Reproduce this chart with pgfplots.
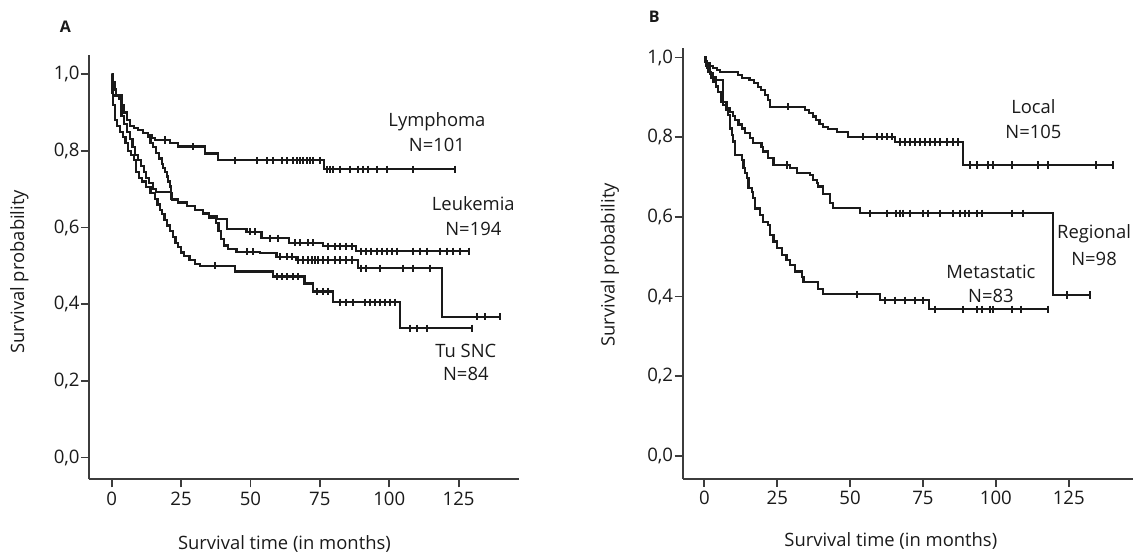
\documentclass[border=0pt]{standalone}
\usepackage{pgfplots}
\pgfplotsset{compat=1.18}
\usepackage{fontspec}
\setmainfont{Open Sans}
\definecolor{ink}{HTML}{1A1A1A}
\pgfplotsset{
 kmaxis/.style={
  scale only axis, anchor=south west,
  axis lines=left, axis line style={-, line width=1pt, ink!85},
  tick align=outside, major tick length=4pt, tick style={line width=0.9pt, ink!85},
  xtick={0,25,50,75,100,125}, xticklabels={0,25,50,75,100,125},
  ytick={0,0.2,0.4,0.6,0.8,1}, yticklabels={{0,0},{0,2},{0,4},{0,6},{0,8},{1,0}},
  tick label style={font=\fontsize{9.3}{10}\selectfont, text=ink},
  yticklabel style={inner xsep=0.5pt},
  xticklabel style={inner ysep=2pt},
  label style={font=\fontsize{9.2}{10}\selectfont, text=ink},
  xlabel={Survival time (in months)}, ylabel={Survival probability},
  clip=false,
 },
 km/.style={const plot, mark=none, line width=1.1pt, ink},
 cens/.style={only marks, mark=|, mark size=1.8pt, ink, mark options={line width=1pt}},
}
\tikzset{lbl/.style={font=\fontsize{9.2}{10}\selectfont, text=ink, inner sep=0pt, anchor=center}}
\begin{document}
\begin{tikzpicture}
\useasboundingbox (0,0) rectangle (570.5pt,277.5pt);
% ---------------- Panel A ----------------
\begin{axis}[kmaxis,
  at={(44.5pt,37.75pt)}, width=215.2pt, height=212.35pt,
  xmin=-8.18, xmax=146.9, ymin=-0.0571, ymax=1.0503,
  ylabel style={at={(axis description cs:-0.162,0.489)}, anchor=center},
  xlabel style={at={(axis description cs:0.454,-0.152)}, anchor=center},
]
% Lymphoma
\addplot[km] table {
0 1.0
0.3 0.98
1 0.96
1.5 0.945
2.5 0.935
3.5 0.92
4.5 0.90
5.5 0.88
6.6 0.865
8 0.86
9.5 0.855
11.4 0.846
13 0.84
14.5 0.834
15.6 0.828
21 0.82
24 0.811
33.6 0.793
38.2 0.775
76.5 0.752
123.7 0.752
};
\addplot[cens] table {
19.2 0.828
29.4 0.811
44.4 0.775
52.2 0.775
55.8 0.775
58.2 0.775
61.2 0.775
63 0.775
65.4 0.775
66.6 0.775
67.8 0.775
69 0.775
70.2 0.775
71.4 0.775
72.6 0.775
75 0.775
77.4 0.752
78.6 0.752
79.8 0.752
82.2 0.752
85.8 0.752
88.8 0.752
90.7 0.752
92.5 0.752
95.5 0.752
99.1 0.752
108.7 0.752
123.7 0.752
};
% Leukemia
\addplot[km] table {
0 1.0
0.3 0.98
1 0.96
1.5 0.945
2.5 0.935
3.5 0.92
4.5 0.90
5.5 0.88
6.6 0.865
8 0.86
9.5 0.855
11.4 0.846
13 0.835
14 0.82
15 0.81
16 0.795
17 0.78
18 0.765
18.6 0.755
19.2 0.745
19.8 0.733
20.4 0.72
21 0.707
21.3 0.69
21.8 0.672
24 0.665
27 0.655
30 0.645
33 0.637
35 0.63
37.8 0.622
41.4 0.597
48.6 0.589
54 0.572
64 0.56
76 0.551
88 0.538
128.8 0.538
};
\addplot[cens] table {
49.8 0.589
51.6 0.589
57 0.572
60 0.572
66 0.56
68 0.56
70.7 0.56
72.4 0.56
78 0.551
80.4 0.551
82.2 0.551
84.6 0.551
86.5 0.551
90 0.538
91.8 0.538
93.6 0.538
95.5 0.538
97.3 0.538
99.1 0.538
100.9 0.538
102.7 0.538
108.7 0.538
111.1 0.538
113.5 0.538
118.3 0.538
120.7 0.538
123.1 0.538
125.5 0.538
128.8 0.538
};
% fourth group (ends 0.37)
\addplot[km] table {
0 1.0
0.3 0.96
0.6 0.944
3.5 0.89
4.5 0.87
5.5 0.85
6.5 0.83
7.5 0.81
8.5 0.79
9.5 0.775
10.5 0.76
11.5 0.745
12.5 0.73
13.5 0.715
14.8 0.70
16 0.693
21.5 0.675
24 0.665
27 0.655
30 0.645
33 0.635
35 0.625
37.5 0.612
38.5 0.59
39.5 0.57
40.5 0.553
42 0.543
45 0.537
53.4 0.533
59.4 0.524
66.6 0.515
88.8 0.494
118.9 0.367
139.9 0.367
};
\addplot[cens] table {
48.6 0.537
51 0.537
60.6 0.524
63 0.524
64.8 0.524
67.2 0.515
69 0.515
70.8 0.515
72 0.515
73.2 0.515
74.4 0.515
76.2 0.515
78 0.515
80.4 0.515
82.2 0.515
84.6 0.515
86.5 0.515
90 0.494
91.8 0.494
96.6 0.494
105 0.494
108.7 0.494
114.7 0.494
131.5 0.367
134.5 0.367
139.9 0.367
};
% Tu SNC
\addplot[km] table {
0 1.0
0.3 0.95
0.6 0.92
1.2 0.88
2 0.865
3 0.85
4 0.835
5 0.82
6 0.80
7 0.79
8 0.775
8.8 0.745
9.8 0.73
11 0.72
12.5 0.705
14 0.69
15.5 0.675
16.5 0.66
17.3 0.645
18 0.635
19 0.62
20 0.605
21 0.59
22 0.575
23 0.56
24 0.55
25 0.535
26 0.525
28 0.515
30 0.505
31.8 0.50
44.4 0.485
58.2 0.472
69.5 0.454
72.5 0.433
79.8 0.405
104 0.337
129.7 0.337
};
\addplot[cens] table {
37.2 0.50
59.4 0.472
61.2 0.472
63 0.472
65.4 0.472
67.2 0.472
73.8 0.433
76.2 0.433
78 0.433
82.2 0.405
84.6 0.405
87 0.405
91.2 0.405
93 0.405
94.8 0.405
96.6 0.405
98.5 0.405
100.3 0.405
102 0.405
107.5 0.337
109.9 0.337
113.5 0.337
129.7 0.337
};
\node[lbl] at (axis cs:117.2,0.875) {Lymphoma};
\node[lbl] at (axis cs:117.2,0.815) {N=101};
\node[lbl] at (axis cs:130.3,0.661) {Leukemia};
\node[lbl] at (axis cs:130.3,0.596) {N=194};
\node[lbl] at (axis cs:127.6,0.278) {Tu SNC};
\node[lbl] at (axis cs:127.6,0.219) {N=84};
\node[font=\bfseries\fontsize{8}{9}\selectfont, text=ink] at (axis description cs:-0.0548,1.0666) {A};
\end{axis}
% ---------------- Panel B ----------------
\begin{axis}[kmaxis,
  at={(341.25pt,38.1pt)}, width=225.45pt, height=215.2pt,
  xmin=-7.51, xmax=147.2, ymin=-0.0572, ymax=1.0228,
  ylabel style={at={(axis description cs:-0.161,0.497)}, anchor=center},
  xlabel style={at={(axis description cs:0.462,-0.1436)}, anchor=center},
]
% Local
\addplot[km] table {
0 1.0
0.4 0.99
0.8 0.985
1.9 0.978
3 0.973
4.2 0.968
5.4 0.963
11.6 0.956
13 0.948
15.5 0.944
17 0.935
18.5 0.925
19.5 0.918
20.8 0.906
21.9 0.893
22.5 0.876
34.5 0.868
36 0.86
37.4 0.852
38.3 0.843
39.5 0.834
40.8 0.826
42.5 0.82
45.4 0.812
49.4 0.801
65.5 0.788
88.8 0.73
140.3 0.73
};
\addplot[cens] table {
28.8 0.876
54.5 0.801
59.1 0.801
60.8 0.801
62.6 0.801
64.2 0.801
67.1 0.788
68.8 0.788
70.5 0.788
72.2 0.788
74 0.788
75.7 0.788
77.4 0.788
79.1 0.788
80.8 0.788
83.1 0.788
85.4 0.788
87.1 0.788
91.1 0.73
93.4 0.73
97.4 0.73
99.1 0.73
105.4 0.73
114.5 0.73
117.9 0.73
134.5 0.73
140.3 0.73
};
% Regional
\addplot[km] table {
0 1.0
0.5 0.98
1.4 0.964
2.2 0.95
3.1 0.939
4 0.927
4.8 0.914
5.9 0.889
7.6 0.872
8.8 0.864
9.7 0.853
10.5 0.843
11.7 0.832
12.8 0.822
14 0.81
15.6 0.797
16.8 0.785
19.6 0.775
20.2 0.764
21.9 0.747
23.7 0.73
29.4 0.722
31.7 0.711
36.2 0.706
37.4 0.693
38.5 0.685
39.1 0.676
40.8 0.657
43.1 0.634
44.2 0.622
53.4 0.609
119.7 0.404
132.3 0.404
};
\addplot[cens] table {
28.2 0.73
56.8 0.609
62.5 0.609
65.9 0.609
67 0.609
68.2 0.609
70.5 0.609
75.1 0.609
76.8 0.609
80.8 0.609
85.4 0.609
87.7 0.609
89.4 0.609
90.9 0.609
93.4 0.609
95.1 0.609
105.4 0.609
109.4 0.609
124.3 0.404
132.3 0.404
};
% Metastatic
\addplot[km] table {
0 1.0
0.3 0.99
1 0.975
2 0.96
3 0.95
4 0.944
6.5 0.881
7.6 0.868
8.2 0.856
8.8 0.822
9.4 0.805
9.9 0.789
10.5 0.755
12.8 0.743
13.4 0.722
14 0.71
14.5 0.697
15.1 0.672
16.2 0.663
16.8 0.647
17.4 0.621
19.1 0.605
20.2 0.588
21.9 0.58
22.5 0.555
23.7 0.538
24.8 0.521
26.5 0.504
28.2 0.492
29.4 0.479
31.1 0.463
33.4 0.45
34 0.437
39.1 0.42
40.8 0.406
60.2 0.391
77 0.368
117.8 0.368
};
\addplot[cens] table {
52.2 0.406
61.9 0.391
65.4 0.391
68.8 0.391
72.2 0.391
75.1 0.391
79.1 0.368
88.8 0.368
93.4 0.368
95.1 0.368
98 0.368
99.1 0.368
105.4 0.368
108.8 0.368
117.8 0.368
};
\node[lbl] at (axis cs:112.9,0.876) {Local};
\node[lbl] at (axis cs:112.9,0.814) {N=105};
\node[lbl] at (axis cs:133.7,0.557) {Regional};
\node[lbl] at (axis cs:133.7,0.495) {N=98};
\node[lbl] at (axis cs:98.3,0.463) {Metastatic};
\node[lbl] at (axis cs:98.3,0.401) {N=83};
\node[font=\bfseries\fontsize{8}{9}\selectfont, text=ink] at (axis description cs:-0.0628,1.074) {B};
\end{axis}
\end{tikzpicture}
\end{document}
